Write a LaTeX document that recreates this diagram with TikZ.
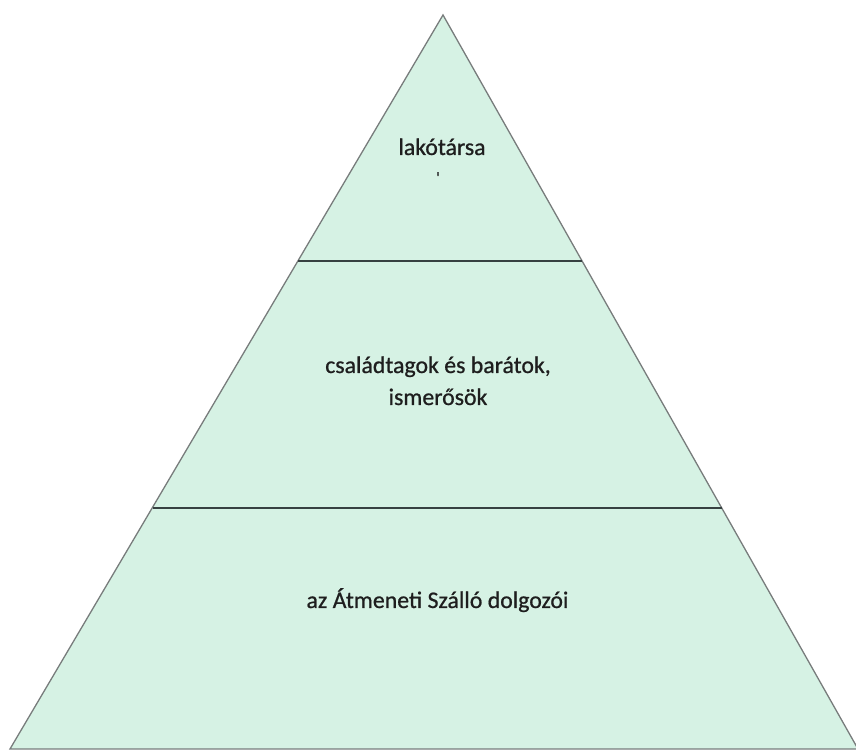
\documentclass[tikz,border=0pt]{standalone}
\usepackage{fontspec}
\setmainfont{Carlito}[FakeBold=0.8]
\newfontfamily\heavyfont{Carlito}[FakeBold=0.8]
\definecolor{mint}{RGB}{214,242,228}
\definecolor{edgegray}{RGB}{120,124,124}
\definecolor{divgray}{RGB}{55,65,65}
\definecolor{txt}{RGB}{30,30,30}
\begin{document}
\begin{tikzpicture}[x=1pt,y=1pt,
  edge/.style={draw=edgegray,line width=1.3pt},
  divider/.style={draw=divgray,line width=1.8pt},
  label/.style={text=txt,font=\heavyfont\fontsize{23.8}{33}\selectfont,align=center,inner sep=0pt,anchor=base}]
\useasboundingbox (0,0) rectangle (856,751);
\coordinate (apex) at (443,736);
\coordinate (bl) at (10,2);
\coordinate (br) at (858,2);
\coordinate (d1l) at (298,490);
\coordinate (d1r) at (582,490);
\coordinate (d2l) at (152.6,243);
\coordinate (d2r) at (721.5,243);
\begin{scope}
\clip (0,0) rectangle (856,751);
\fill[mint] (apex) -- (bl) -- (br) -- cycle;
\draw[edge] (apex) -- (bl) -- (br) -- cycle;
\end{scope}
\draw[divider] (d1l) -- (d1r);
\draw[divider] (d2l) -- (d2r);
\node[label] (top) at (442,596) {lakótársa};
\node[label,font=\heavyfont\fontsize{16}{16}\selectfont] (tick) at (438,568) {\textquotesingle};
\node[label] (mid1) at (438,378) {családtagok és barátok,};
\node[label] (mid2) at (438,346) {ismerősök};
\node[label] (bot) at (437.5,143) {az Átmeneti Szálló dolgozói};
\end{tikzpicture}
\end{document}
